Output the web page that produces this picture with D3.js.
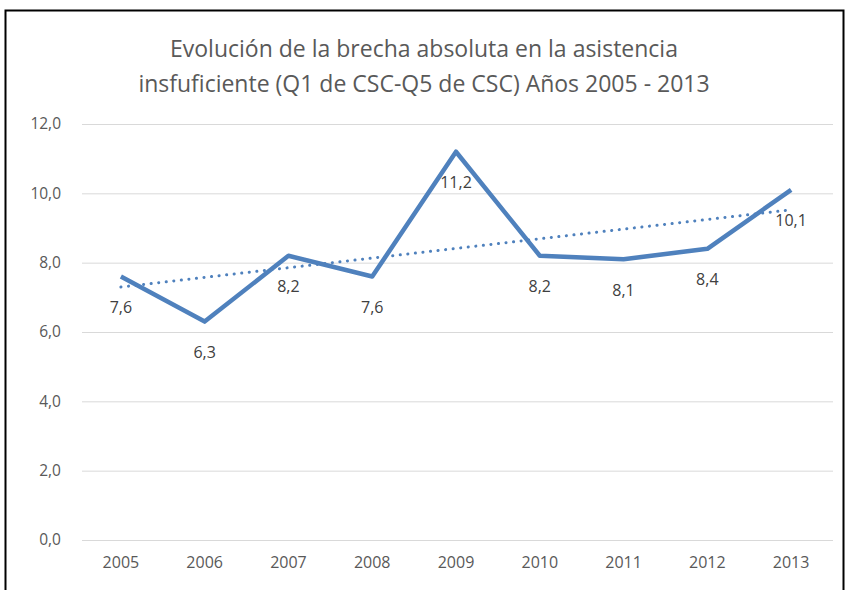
<!DOCTYPE html>
<html>
<head>
<meta charset="utf-8">
<script src="https://cdn.jsdelivr.net/npm/d3@7"></script>
<style>
  body { margin: 0; background: #fff; }
  svg { display: block; }
</style>
</head>
<body>
<div class="chart"></div>
<script>
const years = ["2005", "2006", "2007", "2008", "2009", "2010", "2011", "2012", "2013"];
const values = [7.6, 6.3, 8.2, 7.6, 11.2, 8.2, 8.1, 8.4, 10.1];
const yTicks = [0, 2, 4, 6, 8, 10, 12];
const titleLines = [
    "Evolución de la brecha absoluta en la asistencia",
    "insfuficiente (Q1 de CSC-Q5 de CSC) Años 2005 - 2013"
];

const width = 847;
const height = 590;
const margin = { top: 124, right: 14, bottom: 50, left: 79 };
const font = "'Open Sans', 'Noto Sans', sans-serif";
const blue = "#4f81bd";
const grey = "#595959";

const fmt = v => d3.format(".1f")(v).replace(".", ",");

const svg = d3.select(".chart")
    .append("svg")
    .attr("width", width)
    .attr("height", height);

// frame
svg.append("rect")
    .attr("x", 5.5)
    .attr("y", 10.5)
    .attr("width", 838)
    .attr("height", 600)
    .attr("fill", "none")
    .attr("stroke", "#000")
    .attr("stroke-width", 2);

svg.append("g")
    .selectAll("text")
    .data(titleLines)
    .enter()
    .append("text")
    .attr("x", 424)
    .attr("y", (d, i) => 57 + i * 35)
    .attr("text-anchor", "middle")
    .attr("font-family", font)
    .attr("font-size", 23)
    .attr("fill", grey)
    .text(d => d);

const x = d3.scaleBand()
    .domain(years)
    .range([margin.left, width - margin.right]);

const y = d3.scaleLinear()
    .domain([0, 12])
    .range([540, margin.top]);

// gridlines
svg.append("g")
    .selectAll("line")
    .data(yTicks)
    .enter()
    .append("line")
    .attr("x1", margin.left + 3)
    .attr("x2", width - margin.right)
    .attr("y1", d => y(d) + 0.5)
    .attr("y2", d => y(d) + 0.5)
    .attr("stroke", "#d9d9d9")
    .attr("stroke-width", 1);

const yAxis = d3.axisLeft(y)
    .tickValues(yTicks)
    .tickFormat(fmt)
    .tickSize(0)
    .tickPadding(0);

const gY = svg.append("g")
    .attr("transform", "translate(61,0)")
    .call(yAxis);
gY.select(".domain").remove();
gY.selectAll("text")
    .attr("font-family", font)
    .attr("font-size", 15.5)
    .attr("fill", grey);

const xAxis = d3.axisBottom(x).tickSize(0).tickPadding(0);
const gX = svg.append("g")
    .attr("transform", "translate(0,557)")
    .call(xAxis);
gX.select(".domain").remove();
gX.selectAll("text")
    .attr("font-family", font)
    .attr("font-size", 16)
    .attr("fill", grey);

const cx = d => x(d) + x.bandwidth() / 2;

// linear trendline
const n = values.length;
const xs = d3.range(n);
const mx = d3.mean(xs), my = d3.mean(values);
const slope = d3.sum(xs, i => (i - mx) * (values[i] - my)) / d3.sum(xs, i => (i - mx) ** 2);
const icpt = my - slope * mx;

svg.append("line")
    .attr("x1", cx(years[0]))
    .attr("x2", cx(years[n - 1]))
    .attr("y1", y(icpt))
    .attr("y2", y(icpt + slope * (n - 1)))
    .attr("stroke", blue)
    .attr("stroke-width", 3)
    .attr("stroke-linecap", "round")
    .attr("stroke-dasharray", "0.1,7.5");

const line = d3.line()
    .x((d, i) => cx(years[i]))
    .y(d => y(d));

svg.append("path")
    .datum(values)
    .attr("d", line)
    .attr("fill", "none")
    .attr("stroke", blue)
    .attr("stroke-width", 4.5)
    .attr("stroke-linejoin", "round");

svg.append("g")
    .selectAll("text")
    .data(values)
    .enter()
    .append("text")
    .attr("x", (d, i) => cx(years[i]))
    .attr("y", d => y(d) + 31)
    .attr("dy", "0.35em")
    .attr("text-anchor", "middle")
    .attr("font-family", font)
    .attr("font-size", 16)
    .attr("fill", "#404040")
    .text(fmt);
</script>
</body>
</html>
